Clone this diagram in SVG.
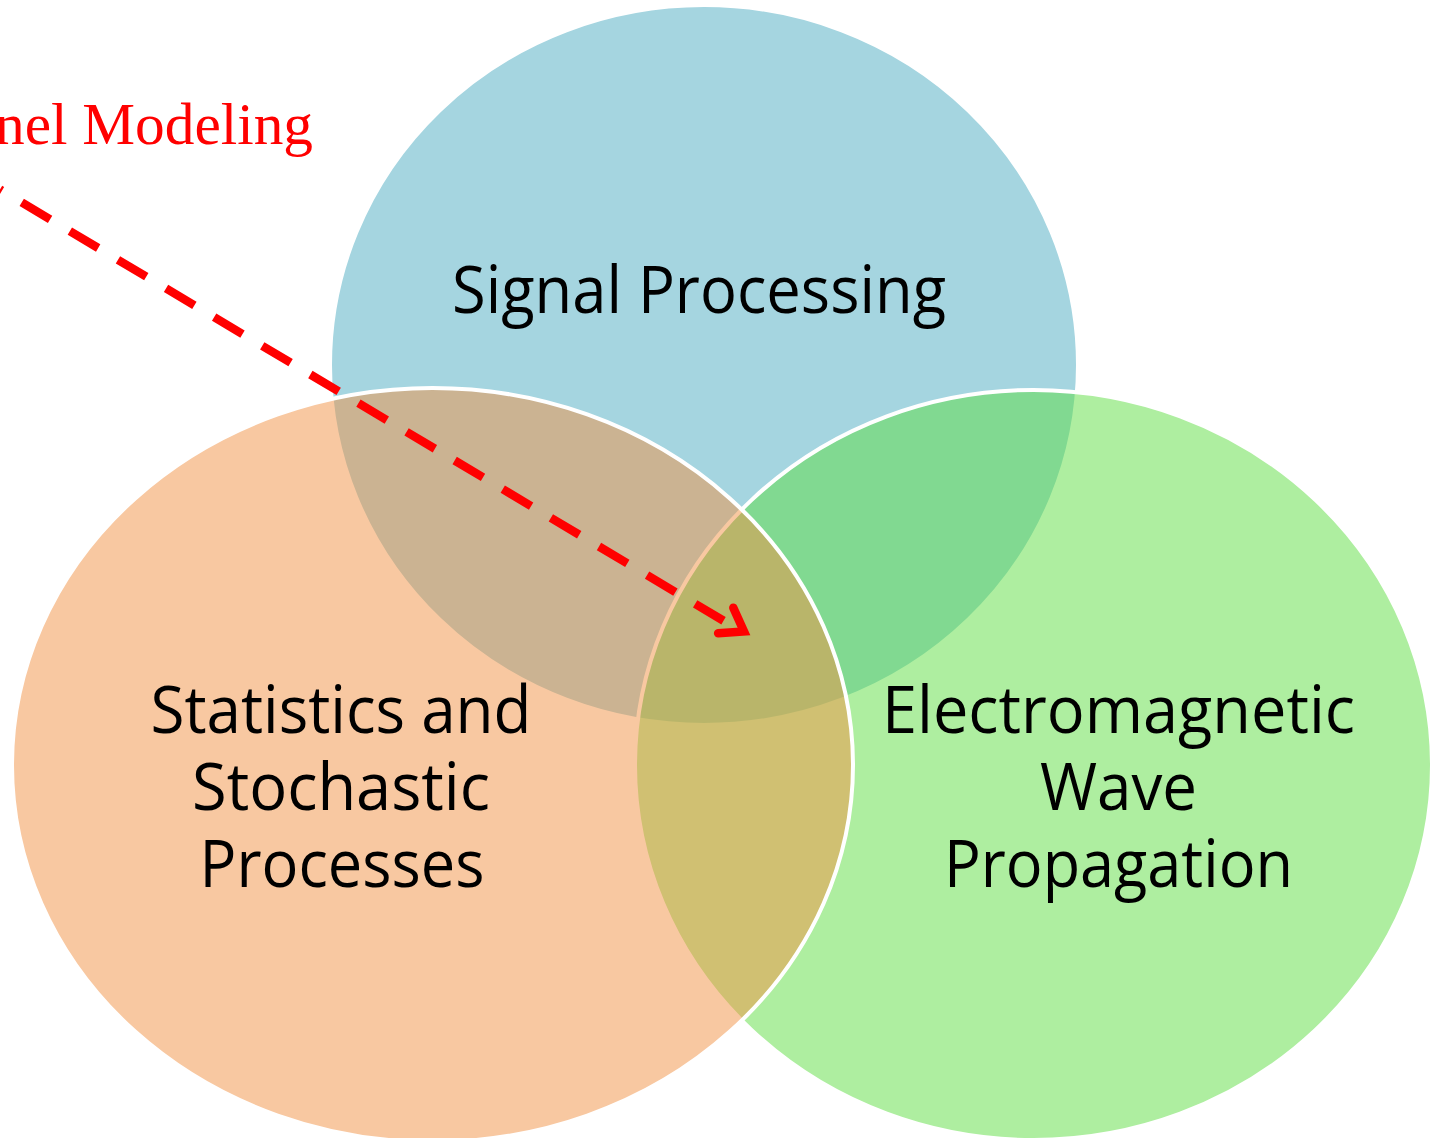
<svg xmlns="http://www.w3.org/2000/svg" width="1439" height="1138" viewBox="0 0 1439 1138">
  <style>
    .set { stroke: #ffffff; stroke-width: 4; fill-opacity: 0.5; }
    .set-label { font-family: "Open Sans", "Noto Sans", "Liberation Sans", sans-serif; font-size: 66px; fill: #000000; text-anchor: middle; }
    .note { font-family: "Liberation Serif", "DejaVu Serif", serif; font-size: 59px; fill: #ff0000; }
    .dash { fill: none; stroke: #ff0000; stroke-width: 8.5; stroke-dasharray: 33 23; stroke-dashoffset: 30.7; stroke-linecap: butt; }
    .head { fill: none; stroke: #ff0000; stroke-width: 8.5; stroke-linecap: round; stroke-linejoin: miter; }
  </style>
  <rect width="1439" height="1138" fill="#ffffff"/>

  <!-- Signal Processing (drawn first, lowest layer) -->
  <g id="node-signal-processing">
    <ellipse class="set" cx="704" cy="365" rx="374" ry="360" fill="#4babc1"/>
    <text class="set-label" x="699" y="313" textLength="494" lengthAdjust="spacingAndGlyphs">Signal Processing</text>
  </g>

  <!-- Electromagnetic Wave Propagation -->
  <g id="node-em-wave-propagation">
    <ellipse class="set" cx="1033.5" cy="765" rx="398.5" ry="375" fill="#5ddd41"/>
    <text class="set-label" x="1118.5" y="733" textLength="473" lengthAdjust="spacingAndGlyphs">Electromagnetic</text>
    <text class="set-label" x="1118.5" y="810" textLength="157" lengthAdjust="spacingAndGlyphs">Wave</text>
    <text class="set-label" x="1118.5" y="887" textLength="349" lengthAdjust="spacingAndGlyphs">Propagation</text>
  </g>

  <!-- Statistics and Stochastic Processes (top layer) -->
  <g id="node-statistics">
    <ellipse class="set" cx="432.5" cy="765" rx="420.5" ry="377" fill="#f29143"/>
    <text class="set-label" x="341" y="733" textLength="381" lengthAdjust="spacingAndGlyphs">Statistics and</text>
    <text class="set-label" x="341" y="810" textLength="298" lengthAdjust="spacingAndGlyphs">Stochastic</text>
    <text class="set-label" x="342" y="887" textLength="285" lengthAdjust="spacingAndGlyphs">Processes</text>
  </g>

  <!-- Red annotation -->
  <g id="label-channel-modeling">
    <text class="note" x="-5" y="144" textLength="318" lengthAdjust="spacingAndGlyphs">nel Modeling</text>
  </g>

  <!-- Dashed pointer into the common intersection -->
  <g id="connectors">
    <path class="dash" d="M0,189.5 L724.1,621.1"/>
    <path class="head" d="M733.3,607.7 L744,631.4 L718.1,633.3"/>
  </g>
</svg>
